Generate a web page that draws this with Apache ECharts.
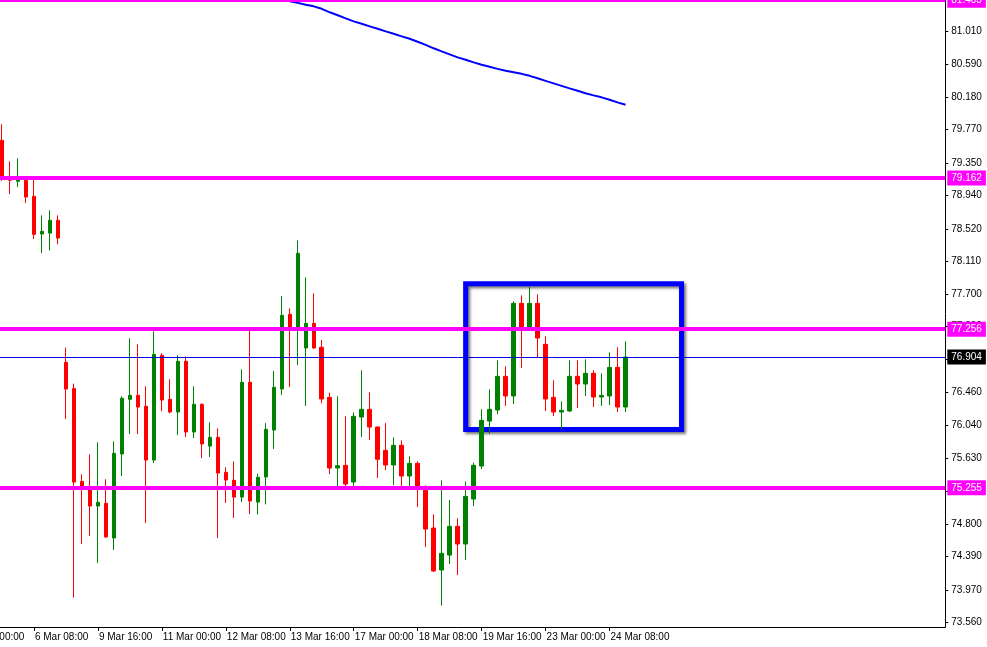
<!DOCTYPE html>
<html>
<head>
<meta charset="utf-8">
<script src="https://cdn.jsdelivr.net/npm/echarts@6/dist/echarts.min.js"></script>
<style>
html,body{margin:0;padding:0;background:#fff;overflow:hidden;width:987px;height:647px;}
#chart{position:absolute;left:-32px;top:0;width:1019px;height:647px;}
</style>
</head>
<body>
<div id="chart"></div>
<script>
// H4 candles [open, close, low, high], first candle = 5 Mar 16:00
const candles = [
[79.636,79.173,79.123,79.838],[79.153,79.132,78.959,79.371],[79.119,79.132,79.047,79.409],[79.132,78.921,78.846,79.157],
[78.930,78.451,78.392,79.153],[78.455,78.489,78.215,78.690],[78.467,78.628,78.249,78.754],[78.628,78.404,78.325,78.690],
[76.837,76.501,76.123,77.023],[76.506,75.328,73.871,76.569],[75.337,75.258,74.547,75.426],[75.262,75.026,74.648,75.678],
[75.026,75.073,74.307,75.829],[75.060,74.635,74.630,75.363],[74.623,75.690,74.471,75.842],[75.682,76.384,75.404,76.409],
[76.371,76.421,75.934,77.140],[76.421,76.274,75.934,77.064],[76.283,75.606,74.812,76.535],[75.606,76.938,75.568,77.228],
[76.926,76.362,76.220,76.951],[76.371,76.211,76.195,76.623],[76.211,76.850,75.921,76.926],[76.850,75.959,75.896,76.913],
[75.959,76.308,75.883,76.535],[76.308,75.808,75.631,76.321],[75.782,75.892,75.644,76.081],[75.892,75.442,74.623,76.005],
[75.451,75.354,75.064,75.514],[75.350,75.139,74.875,75.589],[75.139,76.585,75.076,76.749],[76.585,75.089,74.925,77.241],
[75.076,75.388,74.921,75.434],[75.392,75.993,75.047,76.072],[75.984,76.522,75.745,76.728],[76.501,77.430,76.425,77.673],
[77.443,77.257,76.526,77.518],[77.257,78.212,76.803,78.375],[77.018,77.329,76.287,77.909],[77.329,77.018,77.010,77.707],
[77.027,76.375,76.321,77.120],[76.396,75.505,75.429,76.455],[75.505,75.535,75.245,76.409],[75.539,75.303,75.274,76.157],
[75.328,76.157,75.274,76.207],[76.148,76.245,75.896,76.737],[76.245,76.022,75.858,76.459],[76.022,75.615,75.379,76.030],
[75.728,75.543,75.480,76.072],[75.543,75.791,75.291,75.892],[75.791,75.404,75.253,75.854],[75.404,75.564,75.249,75.652],
[75.564,75.253,75.013,75.589],[75.224,74.736,74.509,75.287],[74.749,74.207,74.194,74.921],[74.219,74.430,73.770,75.350],
[74.408,74.770,74.295,75.102],[74.770,74.547,74.156,74.871],[74.547,75.148,74.345,75.337],[75.114,75.539,75.026,75.573],
[75.530,76.106,75.492,76.245],[76.097,76.245,75.934,76.497],[76.236,76.661,76.182,76.863],[76.661,76.413,76.287,76.787],
[76.413,77.581,76.312,77.606],[77.581,77.282,76.766,77.682],[77.282,77.581,77.270,77.787],[77.581,77.144,76.904,77.695],
[77.064,76.375,76.224,77.165],[76.396,76.211,76.161,76.611],[76.211,76.232,75.997,76.346],[76.224,76.661,76.211,76.863],
[76.661,76.564,76.261,76.863],[76.564,76.699,76.413,76.875],[76.699,76.400,76.274,76.737],[76.400,76.421,76.287,76.699],
[76.413,76.774,76.299,76.963],[76.774,76.274,76.211,77.027],[76.274,76.904,76.211,77.102]
];
// moving average, starting at candle index 34
const maFirstCandle = 34;
const maValues = [81.451,81.420,81.388,81.369,81.344,81.325,81.294,81.250,81.212,81.174,81.136,81.105,81.073,81.042,
81.010,80.979,80.947,80.916,80.878,80.840,80.796,80.758,80.720,80.682,80.651,80.619,80.588,80.563,80.537,80.512,
80.493,80.474,80.449,80.418,80.386,80.354,80.323,80.291,80.260,80.229,80.203,80.178,80.147,80.115,80.084];
const levels = [81.403, 79.162, 77.256, 75.255];
const bidPrice = 76.904;
const yTicks = [73.560,73.970,74.390,74.800,75.210,75.630,76.040,76.460,76.870,77.290,77.700,78.110,78.520,78.940,79.350,79.770,80.180,80.590,81.010];
const xTickLabels = ['5 Mar 00:00','6 Mar 08:00','9 Mar 16:00','11 Mar 00:00','12 Mar 08:00','13 Mar 16:00','17 Mar 00:00','18 Mar 08:00','19 Mar 16:00','23 Mar 00:00','24 Mar 08:00'];
const boxTimes = ['19 Mar 08:00', '25 Mar 20:00'];
const boxPrices = [75.990, 77.827];
const months = ['Jan','Feb','Mar','Apr','May','Jun','Jul','Aug','Sep','Oct','Nov','Dec'];

// H4 time slots (weekdays), first slot 5 Mar 2020 00:00
const categories = [];
let t = Date.UTC(2020, 2, 5, 0);
while (categories.length < 123) {
  const d = new Date(t);
  const wd = d.getUTCDay();
  if (wd !== 0 && wd !== 6) {
    const h = d.getUTCHours();
    categories.push(d.getUTCDate() + ' ' + months[d.getUTCMonth()] + ' ' + (h < 10 ? '0' : '') + h + ':00');
  }
  t += 4 * 3600 * 1000;
}
const lead = 4; // slots before first visible candle
const candleData = [];
for (let i = 0; i < lead; i++) candleData.push('-');
candles.forEach(c => candleData.push(c));
while (candleData.length < categories.length) candleData.push('-');
const maData = [];
for (let i = 0; i < lead + maFirstCandle; i++) maData.push('-');
maValues.forEach(v => maData.push(v));
while (maData.length < categories.length) maData.push('-');
const showX = (i, v) => xTickLabels.indexOf(categories[i]) >= 0;
const boxX0 = categories.indexOf(boxTimes[0]);
const boxX1 = categories.indexOf(boxTimes[1]);

const FONT = 'Liberation Sans';
const chart = echarts.init(document.getElementById('chart'));
chart.setOption({
  animation: false,
  backgroundColor: '#ffffff',
  grid: { left: 1.3, right: 41.7, top: 0, bottom: 20 },
  xAxis: {
    type: 'category',
    data: categories,
    boundaryGap: false,
    axisLine: { lineStyle: { color: '#000', width: 1 } },
    axisTick: { show: true, interval: showX, length: 4, lineStyle: { color: '#000' } },
    axisLabel: { interval: showX, align: 'left', margin: 5, color: '#000', fontSize: 10, fontFamily: FONT, padding: [0,0,0,1] },
    splitLine: { show: false }
  },
  yAxis: {
    type: 'value',
    position: 'right',
    min: 73.501,
    max: 81.405,
    scale: true,
    axisLine: { show: true, lineStyle: { color: '#000', width: 1 } },
    axisTick: { show: true, customValues: yTicks, length: 3, lineStyle: { color: '#000' } },
    axisLabel: { customValues: yTicks, formatter: v => v.toFixed(3), color: '#000', fontSize: 10, fontFamily: FONT, margin: 6 },
    splitLine: { show: false }
  },
  series: [
    {
      type: 'candlestick',
      data: candleData,
      barWidth: 4,
      clip: false,
      itemStyle: { color: '#008000', color0: '#ff0000', borderColor: '#008000', borderColor0: '#ff0000', borderWidth: 1 },
      markArea: {
        silent: true,
        itemStyle: { color: 'rgba(0,0,0,0)', borderColor: '#0000ff', borderWidth: 5,
          shadowColor: 'rgba(0,0,0,0.55)', shadowBlur: 3, shadowOffsetX: 2, shadowOffsetY: 2 },
        data: [[{ xAxis: boxX0, yAxis: boxPrices[1] }, { xAxis: boxX1, yAxis: boxPrices[0] }]]
      },
      markLine: {
        silent: true,
        symbol: 'none',
        precision: 3,
        animation: false,
        label: { show: true, position: 'end', distance: 2, formatter: p => Number(p.value).toFixed(3),
          color: '#fff', backgroundColor: '#ff00ff', padding: [3, 4, 2, 4], fontSize: 10, fontFamily: FONT },
        lineStyle: { color: '#ff00ff', width: 4, type: 'solid' },
        data: levels.map(v => ({ yAxis: v })).concat([{
          yAxis: bidPrice,
          lineStyle: { color: '#0000e0', width: 1, type: 'solid' },
          label: { backgroundColor: '#000000', color: '#fff' }
        }])
      }
    },
    {
      type: 'line',
      data: maData,
      showSymbol: false,
      clip: false,
      lineStyle: { color: '#0000ff', width: 2 },
      itemStyle: { color: '#0000ff' },
      z: 3
    }
  ]
});
</script>
</body>
</html>
